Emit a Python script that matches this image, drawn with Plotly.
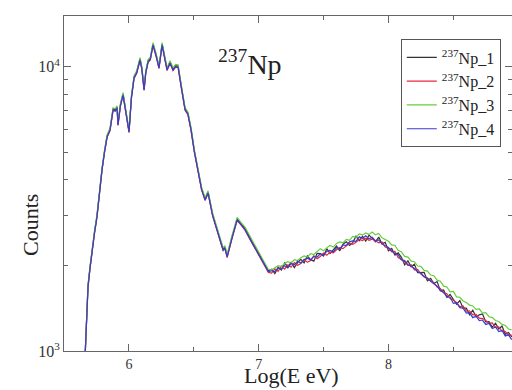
import plotly.graph_objects as go

# ---------------- data ----------------
head_x = [5.660, 5.685, 5.700, 5.716, 5.735, 5.754, 5.775, 5.793, 5.812, 5.832,
          5.855, 5.878, 5.895, 5.909, 5.916, 5.935, 5.955, 5.975, 6.001, 6.020,
          6.040, 6.060, 6.086, 6.100, 6.117, 6.130, 6.148, 6.165, 6.186, 6.210,
          6.232, 6.256, 6.275, 6.294, 6.317, 6.340, 6.360, 6.379, 6.405, 6.433,
          6.455, 6.479, 6.505, 6.533, 6.560, 6.587, 6.610, 6.645, 6.680, 6.700,
          6.726, 6.740, 6.757, 6.795, 6.834, 6.865, 6.896, 6.950, 7.011, 7.050,
          7.075]

tail_x = [7.100, 7.125, 7.150, 7.175, 7.200, 7.225, 7.250, 7.275, 7.300, 7.325,
          7.350, 7.375, 7.400, 7.425, 7.450, 7.475, 7.500, 7.525, 7.550, 7.575,
          7.600, 7.625, 7.650, 7.675, 7.700, 7.725, 7.750, 7.775, 7.800, 7.825,
          7.850, 7.875, 7.900, 7.925, 7.950, 7.975, 8.000, 8.025, 8.050, 8.075,
          8.100, 8.125, 8.150, 8.175, 8.200, 8.225, 8.250, 8.275, 8.300, 8.325,
          8.350, 8.375, 8.400, 8.425, 8.450, 8.475, 8.500, 8.525, 8.550, 8.575,
          8.600, 8.625, 8.650, 8.675, 8.700, 8.725, 8.750, 8.775, 8.800, 8.825,
          8.850, 8.875, 8.900, 8.925, 8.950]

np1_head = [900, 1700, 1960, 2280, 2620, 2990, 3720, 4360, 5030, 5700,
            6030, 7100, 7050, 7200, 6290, 7350, 8020, 6950, 5930, 7870,
            9200, 9560, 10650, 9870, 8340, 9560, 10480, 10680, 12000, 10980,
            9950, 12000, 10680, 9800, 10380, 9800, 10070, 10040, 8460, 7100,
            6850, 6030, 5040, 4260, 3730, 3420, 3620, 3020, 2690, 2520,
            2280, 2320, 2160, 2520, 2910, 2800, 2690, 2420, 2160, 2005,
            1915]
np1_tail = [1940, 1870, 1970, 1925, 2040, 1975, 2050, 1965, 2045, 2100,
            2040, 2160, 2095, 2070, 2205, 2200, 2155, 2290, 2200, 2265,
            2340, 2250, 2375, 2420, 2350, 2405, 2535, 2440, 2530, 2435,
            2555, 2495, 2420, 2515, 2380, 2410, 2250, 2295, 2175, 2215,
            2135, 2010, 2075, 1978, 2020, 1885, 1890, 1890, 1765, 1800,
            1728, 1755, 1630, 1640, 1545, 1580, 1520, 1460, 1505, 1415,
            1415, 1340, 1392, 1318, 1340, 1350, 1265, 1268, 1212, 1252,
            1195, 1225, 1145, 1162, 1120]

np2_head = [900, 1670, 1940, 2250, 2590, 2950, 3690, 4320, 4980, 5640,
            5960, 7010, 6970, 7130, 6210, 7270, 7920, 6870, 5860, 7770,
            9080, 9470, 10530, 9760, 8250, 9460, 10360, 10560, 11870, 10850,
            9850, 11870, 10560, 9690, 10260, 9690, 9960, 9930, 8370, 7020,
            6770, 5960, 4980, 4210, 3690, 3385, 3580, 2990, 2655, 2490,
            2255, 2290, 2130, 2490, 2875, 2770, 2655, 2390, 2130, 1980,
            1890]
np2_tail = [1880, 1945, 1905, 1990, 1940, 2010, 1970, 2045, 2000, 2030,
            2105, 2050, 2080, 2160, 2110, 2150, 2210, 2170, 2230, 2215,
            2270, 2310, 2290, 2340, 2395, 2370, 2410, 2470, 2445, 2490,
            2450, 2475, 2430, 2400, 2420, 2320, 2300, 2230, 2240, 2130,
            2100, 2060, 2000, 2010, 1930, 1935, 1865, 1830, 1810, 1765,
            1740, 1680, 1660, 1600, 1590, 1530, 1510, 1480, 1430, 1440,
            1380, 1385, 1340, 1345, 1305, 1300, 1280, 1250, 1255, 1210,
            1215, 1175, 1170, 1140, 1135]

np3_head = [900, 1710, 1980, 2300, 2640, 3010, 3760, 4400, 5080, 5750,
            6080, 7160, 7110, 7280, 6340, 7420, 8100, 7020, 5990, 7940,
            9290, 9670, 10760, 9980, 8430, 9670, 10590, 10800, 12150, 11100,
            10070, 12150, 10800, 9910, 10490, 9910, 10190, 10150, 8550, 7180,
            6920, 6100, 5090, 4300, 3770, 3460, 3660, 3060, 2720, 2550,
            2310, 2345, 2185, 2550, 2950, 2830, 2720, 2450, 2185, 2030,
            1935]
np3_tail = [1930, 1960, 1995, 1980, 2030, 2060, 2040, 2095, 2080, 2130,
            2160, 2140, 2200, 2185, 2240, 2290, 2250, 2310, 2350, 2320,
            2390, 2420, 2400, 2470, 2450, 2530, 2510, 2580, 2560, 2600,
            2570, 2620, 2560, 2590, 2500, 2470, 2430, 2360, 2350, 2260,
            2230, 2150, 2140, 2070, 2060, 1990, 1985, 1920, 1910, 1850,
            1840, 1775, 1760, 1690, 1680, 1615, 1620, 1550, 1545, 1500,
            1480, 1450, 1440, 1400, 1405, 1360, 1365, 1320, 1310, 1280,
            1270, 1240, 1230, 1195, 1185]

np4_head = [900, 1680, 1950, 2265, 2600, 2960, 3700, 4335, 5000, 5660,
            5990, 7040, 7000, 7160, 6240, 7300, 7950, 6900, 5890, 7800,
            9120, 9500, 10570, 9800, 8280, 9500, 10400, 10600, 11920, 10900,
            9890, 11920, 10600, 9730, 10300, 9730, 10000, 9970, 8400, 7050,
            6800, 5990, 5000, 4226, 3700, 3397, 3595, 3000, 2667, 2500,
            2265, 2300, 2141, 2500, 2890, 2780, 2667, 2400, 2141, 1990,
            1900]
np4_tail = [1915, 1900, 1960, 1940, 1995, 1960, 2030, 2010, 2070, 2040,
            2090, 2120, 2090, 2150, 2140, 2195, 2180, 2240, 2260, 2230,
            2310, 2290, 2360, 2350, 2420, 2440, 2430, 2520, 2490, 2540,
            2480, 2510, 2440, 2460, 2380, 2350, 2310, 2250, 2200, 2180,
            2090, 2080, 2010, 1985, 1950, 1900, 1880, 1820, 1800, 1760,
            1720, 1690, 1630, 1610, 1550, 1545, 1470, 1480, 1420, 1415,
            1360, 1365, 1310, 1325, 1280, 1285, 1240, 1250, 1200, 1215,
            1170, 1180, 1130, 1140, 1095]

series_names = ["<sup>237</sup>Np_1", "<sup>237</sup>Np_2",
                "<sup>237</sup>Np_3", "<sup>237</sup>Np_4"]
series_counts = [np1_head + np1_tail, np2_head + np2_tail,
                 np3_head + np3_tail, np4_head + np4_tail]
energy = head_x + tail_x

x_ticks = [6, 7, 8]
x_minor = [5.5, 6.5, 7.5, 8.5]
y_ticks = [1000, 10000]
y_ticktext = ["10<sup>3</sup>", "10<sup>4</sup>"]
y_minor = [2000, 3000, 4000, 5000, 6000, 7000, 8000, 9000]

# ---------------- styles ----------------
colors = ["#333333", "#e8283c", "#66cc3c", "#3a3ad0"]
FONT = "Liberation Serif"
AX = "#666666"

fig = go.Figure()
for name, counts, c in zip(series_names, series_counts, colors):
    fig.add_trace(go.Scatter(x=energy, y=counts, mode="lines", name=name,
                             line=dict(color=c, width=1.2)))

fig.update_layout(
    width=512, height=390,
    margin=dict(l=64, r=0, t=16, b=39),
    paper_bgcolor="white", plot_bgcolor="white",
    font=dict(family=FONT, color="#333333"),
    showlegend=True,
    legend=dict(x=0.975, y=0.93, xanchor="right", yanchor="top",
                bordercolor="#555555", borderwidth=1, bgcolor="white",
                font=dict(family=FONT, size=16, color="#222222"),
                itemwidth=30, tracegroupgap=0),
    xaxis=dict(range=[5.5, 8.952], showline=True, linecolor=AX, linewidth=1,
               mirror="ticks", ticks="inside", ticklen=7, tickcolor=AX,
               tickvals=x_ticks, showgrid=False, zeroline=False,
               ticklabelstandoff=0,
               minor=dict(tickvals=x_minor, ticks="inside", ticklen=4,
                          tickcolor=AX, showgrid=False),
               tickfont=dict(family=FONT, size=14, color="#333333")),
    yaxis=dict(type="log", range=[3, 4.178], showline=True, linecolor=AX,
               linewidth=1, mirror="ticks", ticks="inside", ticklen=7,
               tickcolor=AX, tickvals=y_ticks, ticktext=y_ticktext,
               showgrid=False, zeroline=False,
               minor=dict(tickvals=y_minor, ticks="inside", ticklen=4,
                          tickcolor=AX, showgrid=False),
               tickfont=dict(family=FONT, size=16, color="#333333")),
    annotations=[
        dict(text="<sup>237</sup>Np", xref="paper", yref="paper",
             x=0.415, y=0.862, xanchor="center", yanchor="middle",
             showarrow=False, font=dict(family=FONT, size=28, color="#222222")),
        dict(text="Counts", xref="paper", yref="paper", x=-0.076, y=0.376,
             xanchor="center", yanchor="middle", textangle=-90,
             showarrow=False, font=dict(family=FONT, size=22, color="#222222")),
        dict(text="Log(E eV)", xref="paper", yref="paper", x=0.507, y=-0.1164,
             xanchor="center", yanchor="bottom", showarrow=False,
             font=dict(family=FONT, size=22, color="#222222")),
    ],
)

fig.write_html("out.html")
